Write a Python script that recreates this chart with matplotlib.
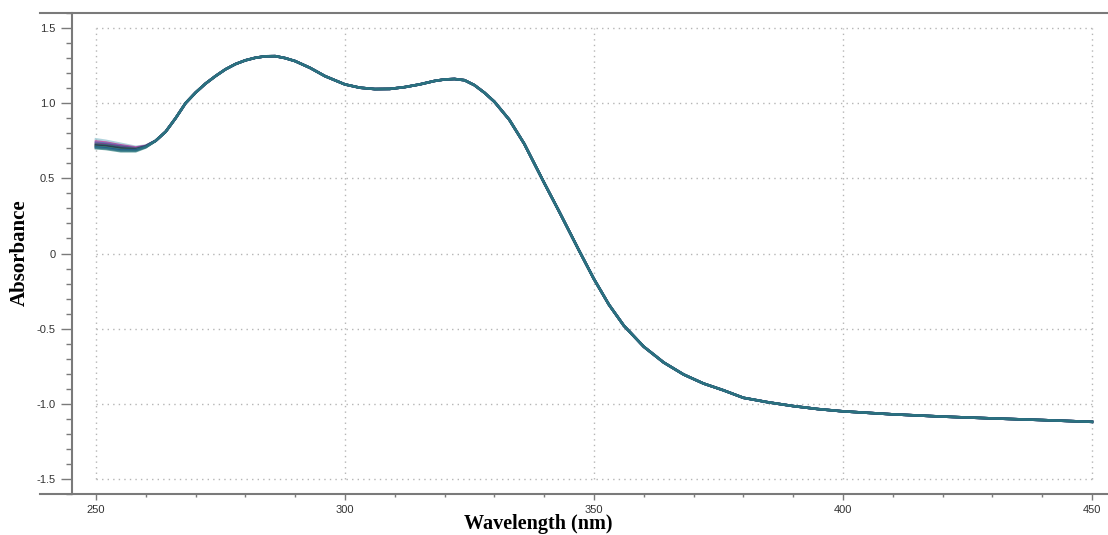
import numpy as np
import matplotlib.pyplot as plt
from matplotlib.ticker import MultipleLocator, FixedLocator, FixedFormatter

# shared part of the spectra (nm, absorbance)
wl_tail = [262, 264, 266, 268, 270, 272, 274, 276, 278, 280, 282, 284, 286,
           288, 290, 293, 296, 300, 303, 306, 309, 312, 315, 318, 320, 322,
           324, 326, 328, 330, 333, 336, 340, 343, 347, 350, 353, 356, 360,
           364, 368, 372, 376, 380, 385, 390, 395, 400, 410, 420, 430, 440, 450]
abs_tail = [0.75, 0.81, 0.90, 1.00, 1.07, 1.13, 1.18, 1.225, 1.26, 1.285,
            1.302, 1.312, 1.313, 1.30, 1.28, 1.235, 1.18, 1.125, 1.103, 1.094,
            1.095, 1.107, 1.125, 1.148, 1.158, 1.161, 1.153, 1.12, 1.07, 1.01,
            0.89, 0.73, 0.47, 0.28, 0.02, -0.17, -0.34, -0.48, -0.62,
            -0.725, -0.805, -0.865, -0.91, -0.96, -0.99, -1.015, -1.035, -1.05,
            -1.07, -1.085, -1.097, -1.108, -1.12]

# the spectra only spread apart below ~260 nm
wl_head = [250, 252, 255, 258, 260]
heads = [
    [0.760, 0.750, 0.730, 0.710, 0.718],
    [0.745, 0.738, 0.720, 0.705, 0.716],
    [0.738, 0.732, 0.715, 0.700, 0.715],
    [0.730, 0.725, 0.710, 0.698, 0.714],
    [0.725, 0.720, 0.705, 0.695, 0.712],
    [0.720, 0.715, 0.700, 0.692, 0.712],
    [0.715, 0.710, 0.695, 0.690, 0.710],
    [0.710, 0.705, 0.690, 0.688, 0.710],
    [0.705, 0.700, 0.685, 0.685, 0.708],
    [0.700, 0.695, 0.680, 0.680, 0.705],
]
colors = ['#8fc0cc', '#c0208c', '#3a7ab0', '#8a1a8a', '#1a8a5a',
          '#2a2a6a', '#303030', '#2aa08a', '#1f3f9a', '#2f7f7a']

fig = plt.figure(figsize=(11.08, 5.35), dpi=100)
ax = fig.add_axes([40 / 1108, 1 - 494 / 535, 1 - 40 / 1108, (494 - 13) / 535])

for h, c in zip(heads, colors):
    ax.plot(wl_head + wl_tail, h + abs_tail, color=c, lw=1.8, alpha=0.7,
            solid_joinstyle='round')

# dotted grid bounded to the data frame
gcol = '#b5b5b5'
for yv in [-1.5, -1.0, -0.5, 0, 0.5, 1.0, 1.5]:
    ax.plot([250, 450], [yv, yv], ls=(0, (1, 3)), color=gcol, lw=1, zorder=0)
for xv in [250, 300, 350, 400, 450]:
    ax.plot([xv, xv], [-1.5, 1.5], ls=(0, (1, 3)), color=gcol, lw=1, zorder=0)

ax.set_xlim(250 - 56 / 4.99, 450 + 16 / 4.99)
ax.set_ylim(-1.6, 1.6)

spine_col = '#7a7a7a'
ax.spines['right'].set_visible(False)
for s in ['top', 'bottom', 'left']:
    ax.spines[s].set_color(spine_col)
    ax.spines[s].set_linewidth(1.5)
ax.spines['left'].set_position(('data', 250 - 24 / 4.99))

ax.xaxis.set_major_locator(FixedLocator([250, 300, 350, 400, 450]))
ax.xaxis.set_minor_locator(FixedLocator(list(range(260, 450, 10))))
yt = [-1.5, -1.0, -0.5, 0, 0.5, 1.0, 1.5]
ax.yaxis.set_major_locator(FixedLocator(yt))
ax.yaxis.set_major_formatter(FixedFormatter(['-1.5', '-1.0', '-0.5', '0', '0.5', '1.0', '1.5']))
ax.yaxis.set_minor_locator(MultipleLocator(0.1))

ax.tick_params(axis='y', which='major', length=8, width=1, color=spine_col,
               labelsize=8, labelcolor='#333333', pad=4)
ax.tick_params(axis='y', which='minor', length=4, width=1, color=spine_col)
ax.tick_params(axis='x', which='major', length=4, width=1, color=spine_col,
               labelsize=8, labelcolor='#333333', pad=4)
ax.tick_params(axis='x', which='minor', length=2, width=1, color=spine_col)
for lab in ax.get_xticklabels() + ax.get_yticklabels():
    lab.set_family('Liberation Sans')

fig.text(538 / 1108, 1 - 524 / 535, 'Wavelength (nm)', ha='center', va='center',
         family='Liberation Serif', fontweight='bold', fontsize=14.5)
fig.text(20 / 1108, 1 - 253 / 535, 'Absorbance', ha='center', va='center',
         rotation=90, family='Liberation Serif', fontweight='bold', fontsize=15)

fig.savefig('out.png', dpi=100, facecolor='white')
